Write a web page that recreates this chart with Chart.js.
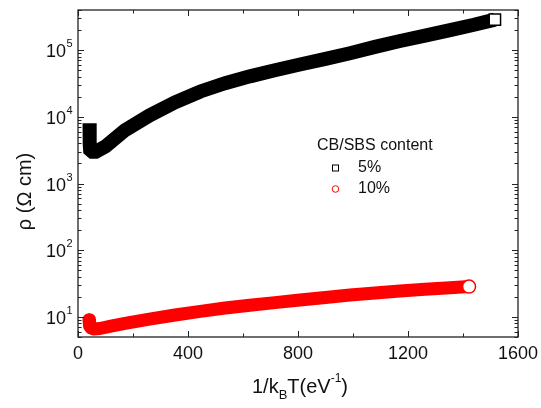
<!DOCTYPE html>
<html>
<head>
<meta charset="utf-8">
<script src="https://cdn.jsdelivr.net/npm/chart.js@4.4.1/dist/chart.umd.min.js"></script>
<style>
  html, body { margin: 0; padding: 0; background: #fff; }
  #wrap { width: 541px; height: 408px; }
</style>
</head>
<body>
<div id="wrap"><canvas id="rhoCanvas" width="541" height="408"></canvas></div>
<script>
// values (x in 1/kBT, eV^-1 ; rho in Ohm cm)
var x5 = [42, 42, 43, 44, 52, 65, 100, 171, 260, 353, 445, 535, 625, 716, 807, 900, 989, 1080, 1171, 1262, 1353, 1440, 1516];
var rho5 = [8000, 5200, 4000, 3200, 3000, 3000, 3600, 6300, 10500, 16500, 24000, 32000, 40500, 50000, 61000, 74000, 90000, 112000, 137000, 165000, 200000, 240000, 287000];

var x10 = [40, 41, 43, 48, 58, 80, 120, 171, 260, 353, 445, 535, 625, 716, 807, 900, 989, 1080, 1171, 1262, 1353, 1422];
var rho10 = [9.1, 8.2, 7.3, 6.8, 6.6, 6.7, 7.3, 8.0, 9.3, 10.7, 12.1, 13.6, 15.0, 16.4, 17.9, 19.6, 21.3, 22.9, 24.4, 26.0, 27.4, 28.5];

var seriesLabels = ['5%', '10%'];
var legendTitle = 'CB/SBS content';
var xMajor = [0, 400, 800, 1200, 1600];
var xMinor = [200, 600, 1000, 1400];
var yExp = [1, 2, 3, 4, 5];

var FONT = "'Liberation Sans', Arial, sans-serif";

function toPts(xs, ys) {
    var out = [];
    for (var i = 0; i < xs.length; i++) {
        out.push({x: xs[i], y: ys[i]});
    }
    return out;
}

// only the last point of each series shows its (open) marker
function lastOnly(r, n) {
    return function (c) { return c.dataIndex === n - 1 ? r : 0; };
}

// axes frame, inward ticks, tick labels, titles and legend
var framePlugin = {
    id: 'framePlugin',
    afterDraw: function (chart) {
        var ctx = chart.ctx;
        var a = chart.chartArea;
        var xs = chart.scales.x;
        var ys = chart.scales.y;
        ctx.save();
        ctx.strokeStyle = '#222';
        ctx.lineWidth = 1.3;
        ctx.strokeRect(a.left, a.top, a.right - a.left, a.bottom - a.top);

        ctx.beginPath();
        ctx.lineWidth = 1;
        xMajor.forEach(function (v) {
            var px = Math.round(xs.getPixelForValue(v)) + 0.5;
            ctx.moveTo(px, a.bottom); ctx.lineTo(px, a.bottom - 6);
            ctx.moveTo(px, a.top); ctx.lineTo(px, a.top + 6);
        });
        xMinor.forEach(function (v) {
            var px = Math.round(xs.getPixelForValue(v)) + 0.5;
            ctx.moveTo(px, a.bottom); ctx.lineTo(px, a.bottom - 3.5);
            ctx.moveTo(px, a.top); ctx.lineTo(px, a.top + 3.5);
        });
        for (var e = 0; e <= 5; e++) {
            for (var m = 1; m <= 9; m++) {
                var val = m * Math.pow(10, e);
                if (val < ys.min || val > ys.max) continue;
                var py = Math.round(ys.getPixelForValue(val)) + 0.5;
                var len = m === 1 ? 6 : 3.5;
                ctx.moveTo(a.left, py); ctx.lineTo(a.left + len, py);
                ctx.moveTo(a.right, py); ctx.lineTo(a.right - len, py);
            }
        }
        ctx.stroke();

        ctx.fillStyle = '#111';
        // x tick labels
        ctx.font = '18px ' + FONT;
        ctx.textAlign = 'center';
        ctx.textBaseline = 'middle';
        xMajor.forEach(function (v) {
            ctx.fillText(String(v), xs.getPixelForValue(v), a.bottom + 17);
        });

        // y tick labels 10^n
        yExp.forEach(function (n) {
            var py = ys.getPixelForValue(Math.pow(10, n));
            ctx.font = '18px ' + FONT;
            ctx.textAlign = 'right';
            ctx.fillText('10', a.left - 12, py + 2);
            ctx.font = '11px ' + FONT;
            ctx.textAlign = 'left';
            ctx.fillText(String(n), a.left - 11.5, py - 6);
        });

        // y title
        ctx.save();
        ctx.translate(25, (a.top + a.bottom) / 2 + 18);
        ctx.rotate(-Math.PI / 2);
        ctx.font = '20px ' + FONT;
        ctx.textAlign = 'center';
        ctx.fillText('\u03c1 (\u03a9 cm)', 0, 0);
        ctx.restore();

        // x title: 1/k_B T(eV^-1)
        var parts = [
            {t: '1/k', f: '20px ', dy: 0},
            {t: 'B', f: '13px ', dy: 8},
            {t: 'T(eV', f: '20px ', dy: 0},
            {t: '-1', f: '12px ', dy: -8},
            {t: ')', f: '20px ', dy: 0}
        ];
        var total = 0;
        parts.forEach(function (p) { ctx.font = p.f + FONT; p.w = ctx.measureText(p.t).width; total += p.w; });
        var cx = (a.left + a.right) / 2 - total / 2 + 2;
        ctx.textAlign = 'left';
        parts.forEach(function (p) {
            ctx.font = p.f + FONT;
            ctx.fillText(p.t, cx, 387 + p.dy);
            cx += p.w;
        });

        // legend
        ctx.font = '16px ' + FONT;
        ctx.textAlign = 'left';
        ctx.fillText(legendTitle, 317, 146);
        ctx.fillText(seriesLabels[0], 358, 168);
        ctx.fillText(seriesLabels[1], 358, 189);
        ctx.lineWidth = 1;
        ctx.strokeStyle = '#000';
        ctx.strokeRect(332.5, 165, 6, 6);
        ctx.strokeStyle = '#f00';
        ctx.beginPath();
        ctx.arc(335.5, 189, 3.3, 0, Math.PI * 2);
        ctx.stroke();
        ctx.restore();
    }
};

var ctx = document.getElementById('rhoCanvas');
var rhoChart = new Chart(ctx, {
    type: 'line',
    data: {
        datasets: [{
            label: seriesLabels[0],
            data: toPts(x5, rho5),
            borderColor: '#000',
            borderWidth: 14,
            borderJoinStyle: 'miter',
            borderCapStyle: 'butt',
            tension: 0,
            pointStyle: 'rect',
            pointRadius: lastOnly(8, x5.length),
            pointBorderWidth: 1.5,
            pointBorderColor: '#000',
            pointBackgroundColor: '#fff'
        }, {
            label: seriesLabels[1],
            data: toPts(x10, rho10),
            borderColor: '#f00',
            borderWidth: 13,
            borderJoinStyle: 'round',
            borderCapStyle: 'round',
            tension: 0,
            pointStyle: 'circle',
            pointRadius: lastOnly(6.5, x10.length),
            pointBorderWidth: 1.5,
            pointBorderColor: '#f00',
            pointBackgroundColor: '#fff'
        }]
    },
    options: {
        responsive: false,
        animation: false,
        devicePixelRatio: 1,
        layout: { padding: { left: 78, right: 23, top: 10, bottom: 71 } },
        plugins: {
            legend: { display: false },
            tooltip: { enabled: false }
        },
        scales: {
            x: { type: 'linear', min: 0, max: 1600, display: false },
            y: { type: 'logarithmic', min: 5, max: 400000, display: false }
        }
    },
    plugins: [framePlugin]
});
</script>
</body>
</html>
